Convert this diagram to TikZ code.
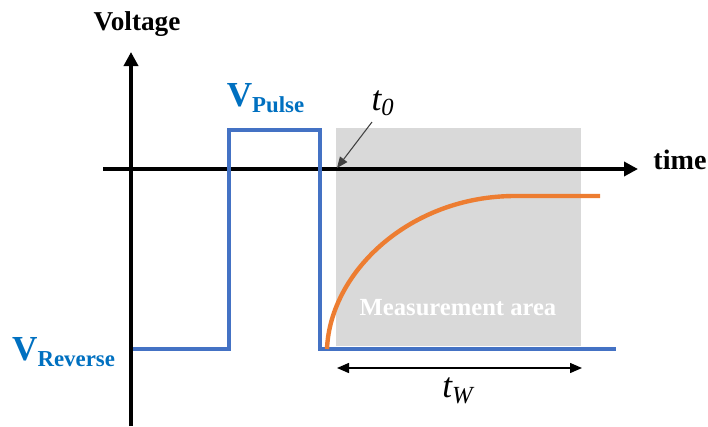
\documentclass[tikz,border=0pt]{standalone}
\usepackage{fontspec}
\setmainfont{Liberation Serif}
\usetikzlibrary{arrows.meta}
\tikzset{>={Stealth[scale=1.4]}}
\definecolor{pulseblue}{HTML}{4472C4}
\definecolor{labelblue}{HTML}{0070C0}
\definecolor{curveorange}{HTML}{ED7D31}
\definecolor{areagray}{HTML}{D9D9D9}
\tikzset{
  axis/.style={line width=2.6pt,-{Triangle[length=2.8mm,width=2.8mm]}},
  pulse/.style={pulseblue,line width=2.7pt,line join=miter},
  response/.style={curveorange,line width=2.5pt},
  span/.style={line width=0.8pt,{Triangle[length=2.4mm,width=2mm]}-{Triangle[length=2.4mm,width=2mm]}},
  pointer/.style={black!75,line width=0.6pt,-{Triangle[length=2.2mm,width=1.8mm]}},
  axislabel/.style={font=\fontsize{15.5}{18}\selectfont\bfseries},
  vlabel/.style={text=labelblue,font=\fontsize{20}{24}\selectfont\bfseries,inner sep=0pt}
}

\begin{document}
\begin{tikzpicture}[x=0.2mm,y=-0.2mm]
  \useasboundingbox (0,0) rectangle (708,426);

  % 坐标点定义
  \coordinate (VB) at (131,426);
  \coordinate (VT) at (131,52);
  \coordinate (HL) at (103,169);
  \coordinate (HR) at (638,169);
  \coordinate (P0) at (133,349);
  \coordinate (P1) at (229,349);
  \coordinate (P2) at (229,130);
  \coordinate (P3) at (320,130);
  \coordinate (P4) at (320,349);
  \coordinate (P5) at (616,349);
  \coordinate (C0) at (327,349);
  \coordinate (C1) at (515,196);
  \coordinate (C2) at (600,196);
  \coordinate (WL) at (337,368);
  \coordinate (WR) at (582,368);
  \coordinate (TA) at (372,122);
  \coordinate (TB) at (337,168);

  % 测量区域
  \fill[areagray] (336,128) rectangle (581,346);
  \node[text=white,font=\fontsize{14}{16}\selectfont\bfseries] (area) at (458,308) {Measurement area};

  % 坐标轴
  \draw[axis] (VB) -- (VT);
  \draw[axis] (HL) -- (HR);
  \node[axislabel] (volt) at (137,24) {Voltage};
  \node[axislabel,font=\fontsize{16}{18}\selectfont\bfseries] (time) at (680,160) {time};

  % 脉冲与响应曲线
  \draw[pulse] (P0) -- (P1) -- (P2) -- (P3) -- (P4) -- (P5);
  \draw[response] (C0) .. controls (330,272) and (410,196) .. (C1) -- (C2);

  % 标注
  \node[vlabel] (vpulse) at (266,98) {V\textsubscript{\fontsize{13}{15}\selectfont Pulse}};
  \node[vlabel] (vrev) at (64,352) {V\textsubscript{\fontsize{13}{15}\selectfont Reverse}};
  \node[font=\fontsize{20}{24}\selectfont\itshape] (tzero) at (383,103) {t\textsubscript{0}};
  \draw[pointer] (TA) -- (TB);
  \draw[span] (WL) -- (WR);
  \node[font=\fontsize{20}{24}\selectfont\itshape] (tw) at (458,391) {t\textsubscript{W}};
\end{tikzpicture}
\end{document}
